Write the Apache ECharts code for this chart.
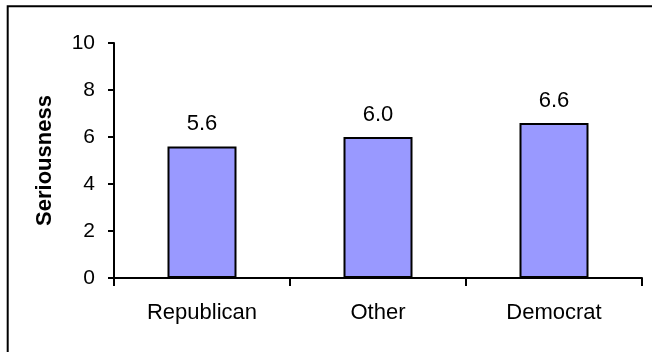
<!DOCTYPE html>
<html>
<head>
<meta charset="utf-8">
<script src="https://cdn.jsdelivr.net/npm/echarts@6/dist/echarts.min.js"></script>
<style>
  html, body { margin: 0; padding: 0; background: #fff; }
  #chart { width: 652px; height: 352px; }
</style>
</head>
<body>
<div id="chart"></div>
<script>
// Party groups and their mean seriousness ratings
const categories = ['Republican', 'Other', 'Democrat'];
const seriousness = [5.6, 6.0, 6.6];
const yTicks = [0, 2, 4, 6, 8, 10];

const FONT = '"Liberation Sans", Arial, sans-serif';

const chart = echarts.init(document.getElementById('chart'), null, { renderer: 'canvas' });

chart.setOption({
  animation: false,
  backgroundColor: '#ffffff',
  textStyle: { fontFamily: FONT },
  graphic: [
    {
      type: 'rect',
      shape: { x: 7.7, y: 6.3, width: 800, height: 600 },
      style: { fill: 'none', stroke: '#000', lineWidth: 2 },
      silent: true,
      z: 100
    }
  ],
  grid: { left: 114, right: 10, top: 43, bottom: 74, containLabel: false },
  xAxis: {
    type: 'category',
    data: categories,
    boundaryGap: true,
    axisLine: { show: true, lineStyle: { color: '#000', width: 2 } },
    axisTick: { show: true, alignWithLabel: false, length: 8, lineStyle: { color: '#000', width: 2 } },
    axisLabel: { color: '#000', fontSize: 22, fontFamily: FONT, margin: 24 },
    splitLine: { show: false }
  },
  yAxis: {
    type: 'value',
    min: yTicks[0],
    max: yTicks[yTicks.length - 1],
    interval: yTicks[1] - yTicks[0],
    name: 'Seriousness',
    nameLocation: 'middle',
    nameRotate: 90,
    nameGap: 58,
    nameTextStyle: { color: '#000', fontSize: 22, fontWeight: 'bold', fontFamily: FONT },
    axisLine: { show: true, lineStyle: { color: '#000', width: 2 } },
    axisTick: { show: true, length: 6, lineStyle: { color: '#000', width: 2 } },
    axisLabel: { color: '#000', fontSize: 21, fontFamily: FONT, margin: 19 },
    splitLine: { show: false }
  },
  series: [
    {
      type: 'bar',
      data: seriousness,
      barWidth: 69,
      itemStyle: { color: '#9999ff', borderColor: '#000', borderWidth: 2 },
      label: {
        show: true,
        position: 'top',
        distance: 11,
        color: '#000',
        fontSize: 22,
        fontFamily: FONT,
        formatter: p => p.value.toFixed(1)
      }
    }
  ]
});
</script>
</body>
</html>
